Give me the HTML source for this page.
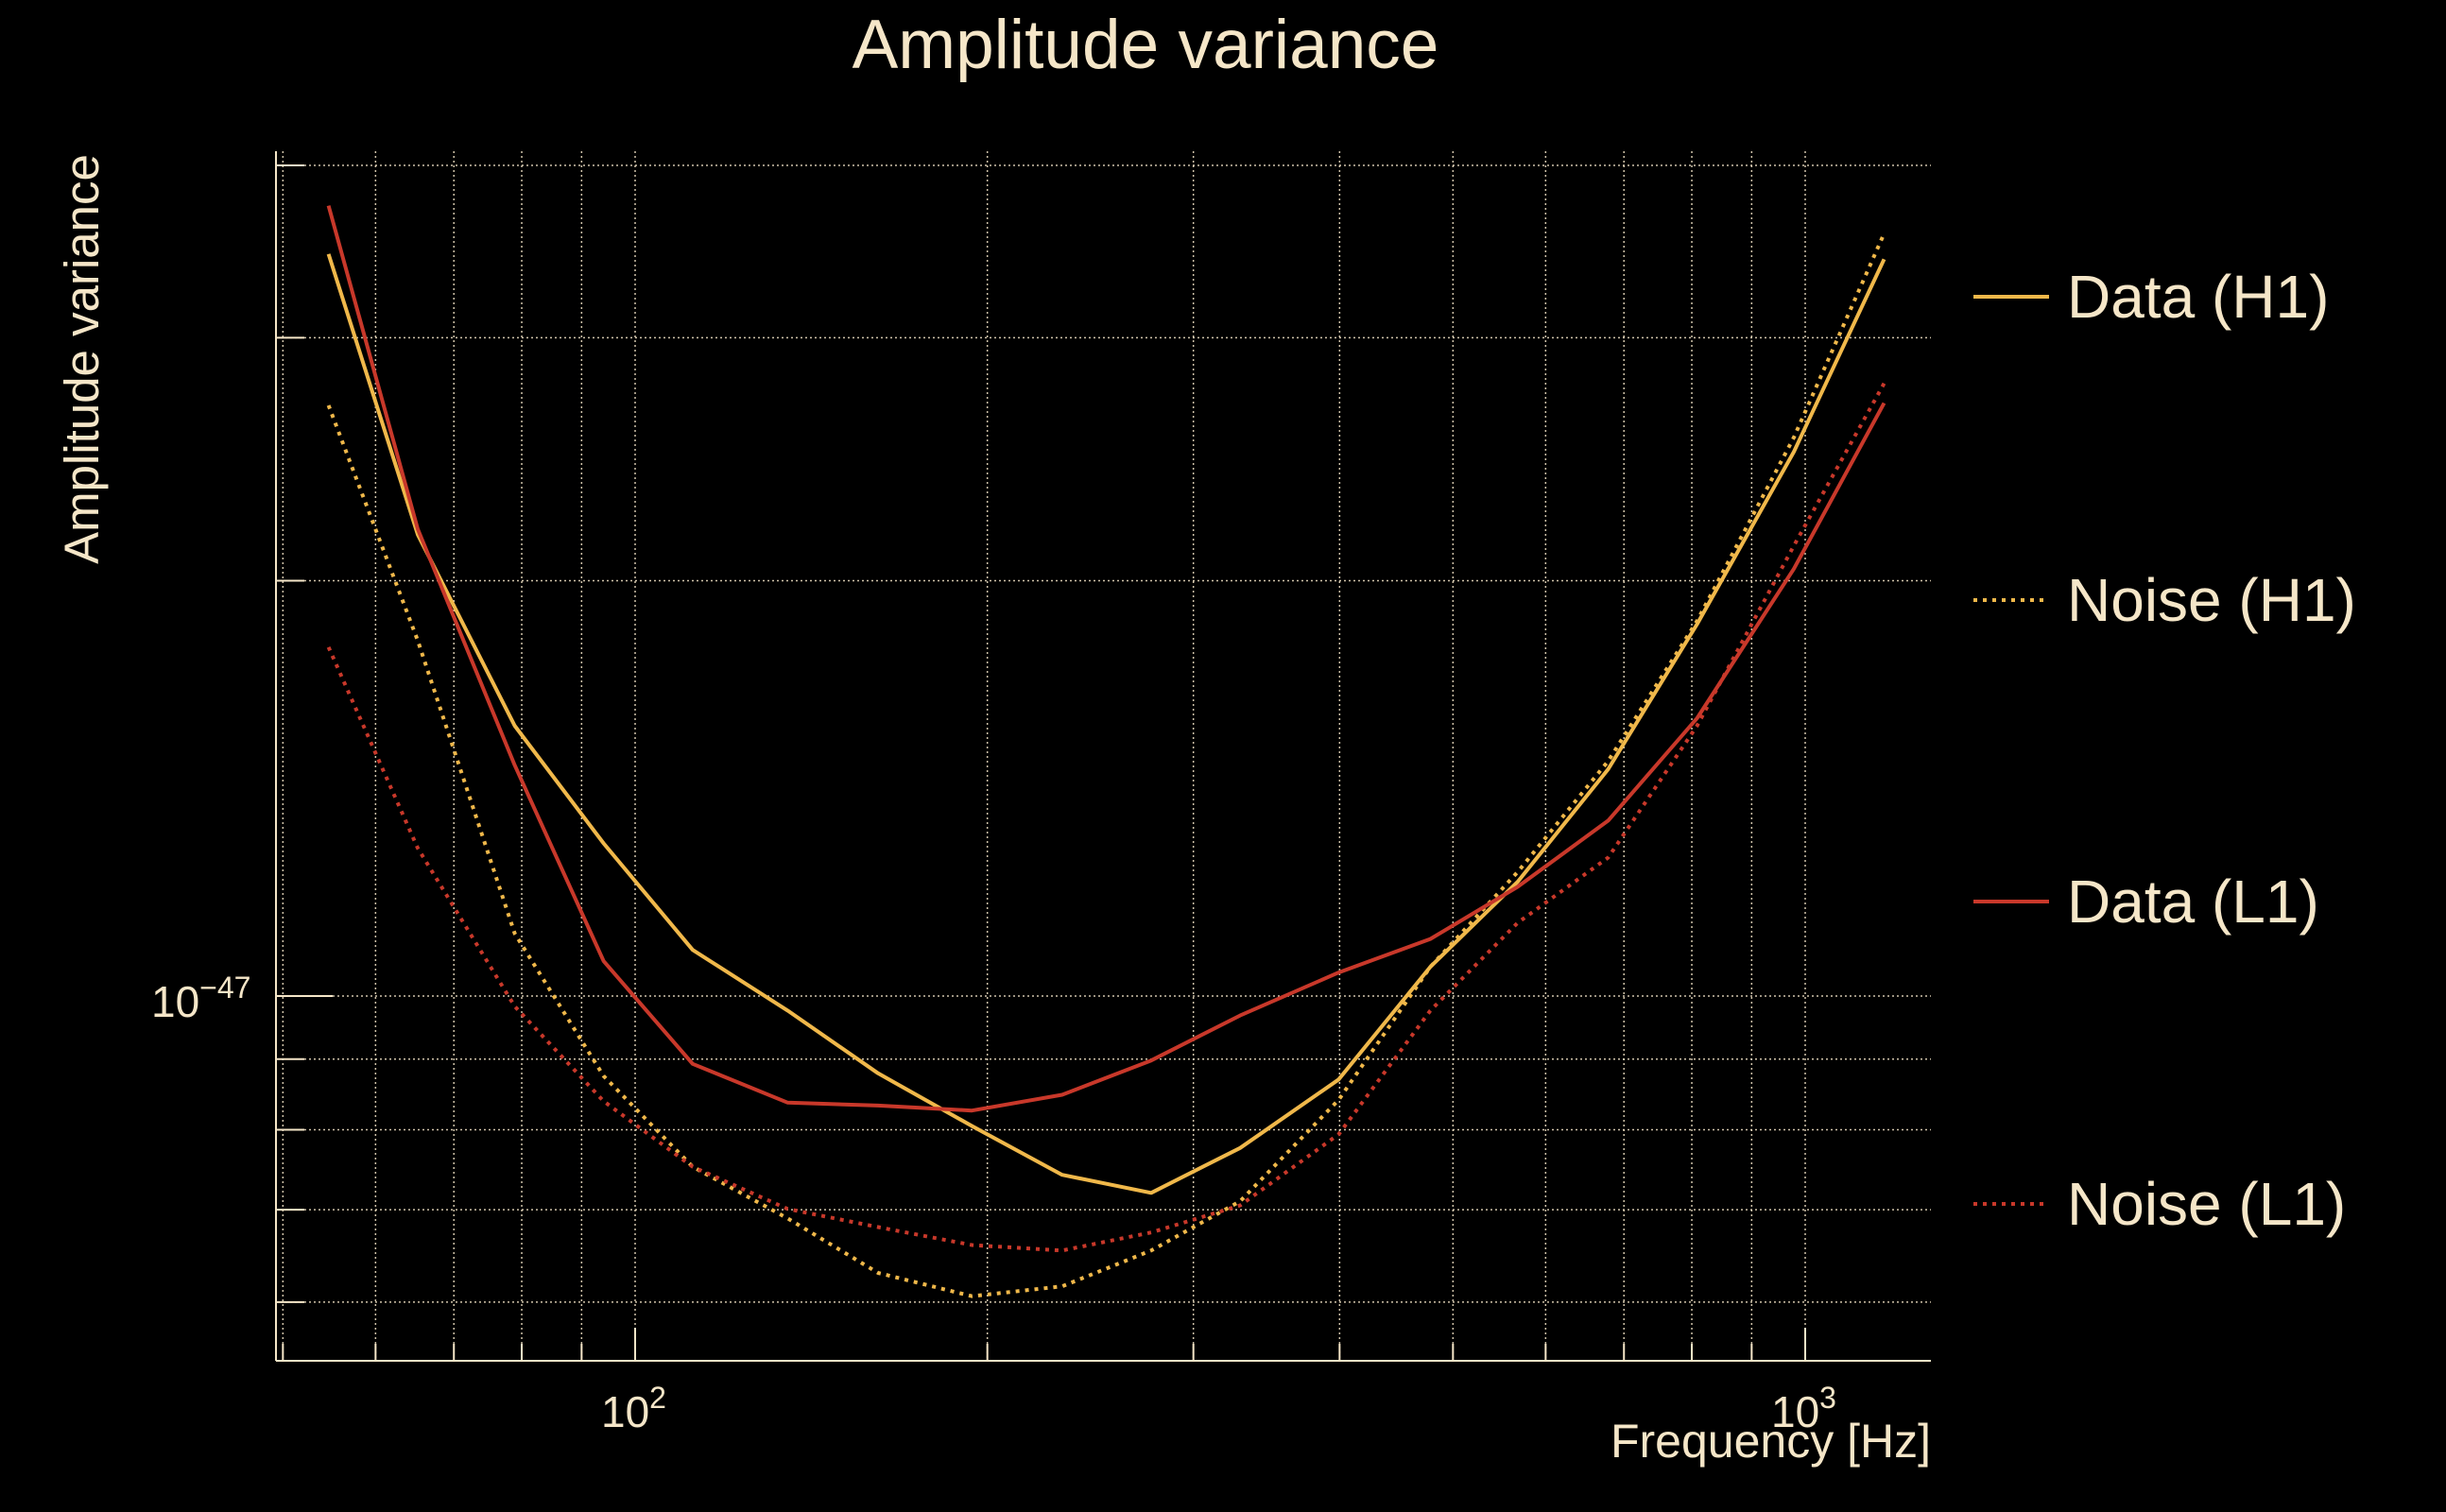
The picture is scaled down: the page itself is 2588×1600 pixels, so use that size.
<!DOCTYPE html>
<html><head><meta charset="utf-8"><style>
html,body{margin:0;padding:0;background:#000;}
svg{display:block;font-family:"Liberation Sans",sans-serif;}
</style></head><body>
<svg id="chart" width="2588" height="1600" viewBox="0 0 2588 1600" xmlns="http://www.w3.org/2000/svg">
<rect width="2588" height="1600" fill="#000"/>
<text x="1212" y="72" font-size="73" fill="#f5e6c8" text-anchor="middle">Amplitude variance</text>
<text transform="translate(104,380) rotate(-90)" font-size="51" fill="#f5e6c8" text-anchor="middle">Amplitude variance</text>
<text x="2043" y="1542" font-size="50" fill="#f5e6c8" text-anchor="end">Frequency [Hz]</text>
<g id="grid"></g>
<g id="axes"></g>
<g id="series"></g>
<g id="legend"></g>
</svg>
<script>
const freqs = [54.7,65.2,78.9,94.0,112.0,135.0,161.3,194.0,231.7,276.1,328.9,399.3,478.2,567.9,678.6,808.4,977.9,1168];
// values in units of 1e-47
const dataH1 = [3.45,2.16,1.57,1.29,1.08,0.976,0.879,0.805,0.742,0.720,0.776,0.870,1.05,1.21,1.46,1.86,2.48,3.42];
const noiseH1 = [2.68,1.81,1.11,0.875,0.752,0.690,0.630,0.606,0.616,0.654,0.710,0.841,1.05,1.23,1.48,1.87,2.54,3.57];
const dataL1 = [3.74,2.18,1.47,1.06,0.893,0.837,0.833,0.826,0.848,0.898,0.968,1.04,1.10,1.20,1.34,1.59,2.04,2.69];
const noiseL1 = [1.79,1.28,0.983,0.839,0.752,0.701,0.680,0.660,0.654,0.674,0.705,0.794,0.976,1.13,1.26,1.57,2.12,2.78];
const seriesNames = ["Data (H1)","Noise (H1)","Data (L1)","Noise (L1)"];
const xMinorTicks = [50,60,70,80,90,100,200,300,400,500,600,700,800,900,1000];
const yMinorTicks = [0.6,0.7,0.8,0.9,1,2,3,4];

const NS="http://www.w3.org/2000/svg";
const L=292,R=2043,T=160,B=1440;
function xs(f){return 672+Math.log10(f/100)*1238;}
function ys(v){return 1054-Math.log10(v)*1460;}
function mk(tag,attrs,parent){const e=document.createElementNS(NS,tag);for(const k in attrs)e.setAttribute(k,attrs[k]);parent.appendChild(e);return e;}
const tc="#f5e6c8";
const grid=document.getElementById('grid');
xMinorTicks.forEach(f=>{
  const x=xs(f);
  const g=mk('line',{x1:x,x2:x,y1:T,y2:B,stroke:tc,'stroke-width':1.5,'stroke-dasharray':'2,3',opacity:0.85},grid);
  
  
  const major=(f===100||f===1000);
  const t=mk('line',{x1:x,x2:x,y1:B,y2:B-(major?35:18),stroke:tc,'stroke-width':2},grid);
  
  
});
yMinorTicks.forEach(v=>{
  const y=ys(v);
  const g=mk('line',{x1:L,x2:R,y1:y,y2:y,stroke:tc,'stroke-width':1.5,'stroke-dasharray':'2,3',opacity:0.85},grid);
  
  
  const t=mk('line',{x1:L,x2:L+(v===1?60:30),y1:y,y2:y,stroke:tc,'stroke-width':2},grid);
  
  
});
const axes=document.getElementById('axes');
const ax1=mk('line',{x1:L,x2:L,y1:T,y2:B,stroke:tc,'stroke-width':2},axes);


const ax2=mk('line',{x1:L,x2:R,y1:B,y2:B,stroke:tc,'stroke-width':2},axes);


function tickLabel(x,y,base,exp,anchor,name){
  const t=mk('text',{x:x,y:y,'font-size':46,fill:tc,'text-anchor':anchor},axes);
  
  
  t.textContent=base;
  const s=mk('tspan',{dy:-20,'font-size':32},t);
  s.textContent=exp;
}
tickLabel(xs(100)-36,1510,"10","2","start",'x-tick-label-100');
tickLabel(xs(1000)-36,1510,"10","3","start",'x-tick-label-1000');
tickLabel(160,1076,"10","\u221247","start",'y-tick-label-1e-47');

const sg=document.getElementById('series');
const defs=[[dataH1,"#f0b84a",null,'line-data-h1'],[noiseH1,"#f0b84a","4,6",'line-noise-h1'],[dataL1,"#c8382a",null,'line-data-l1'],[noiseL1,"#c8382a","4,6",'line-noise-l1']];
defs.forEach(d=>{
  const pts=freqs.map((f,i)=>xs(f).toFixed(1)+','+ys(d[0][i]).toFixed(1)).join(' ');
  const a={points:pts,fill:'none',stroke:d[1],'stroke-width':4,'stroke-linejoin':'round'};
  if(d[2]) a['stroke-dasharray']=d[2];
  const p=mk('polyline',a,sg);
  
  
});
const lg=document.getElementById('legend');
const ly=[314,635,954,1274];
defs.forEach((d,i)=>{
  const a={x1:2088,x2:2168,y1:ly[i],y2:ly[i],stroke:d[1],'stroke-width':4};
  if(d[2]) a['stroke-dasharray']=d[2];
  const l=mk('line',a,lg);
  
  
  const t=mk('text',{x:2187,y:ly[i]+22,'font-size':64,fill:tc},lg);
  
  
  t.textContent=seriesNames[i];
});
</script>
</body></html>
